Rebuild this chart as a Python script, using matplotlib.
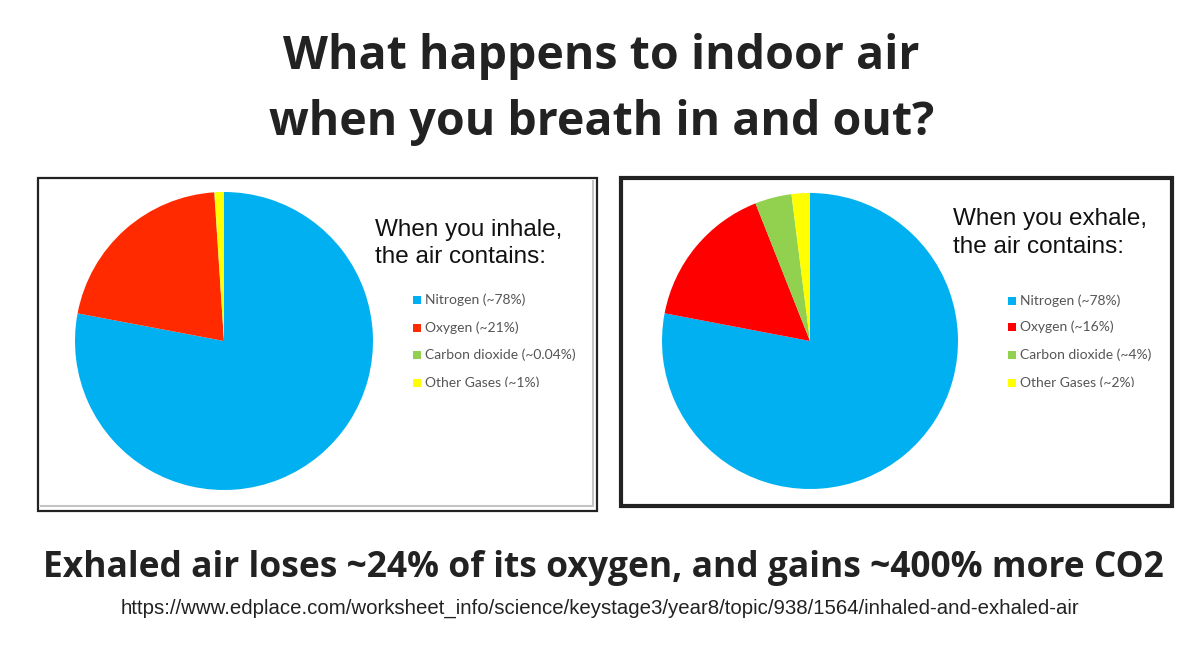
import matplotlib
matplotlib.use("Agg")
import matplotlib.pyplot as plt
from matplotlib.patches import Rectangle
from matplotlib.lines import Line2D

# ---- data ----
gases = ["Nitrogen", "Oxygen", "Carbon dioxide", "Other Gases"]
inhale_values = [78, 21, 0.04, 1]
exhale_values = [78, 16, 4, 2]
inhale_labels = ["Nitrogen (~78%)", "Oxygen (~21%)", "Carbon dioxide (~0.04%)", "Other Gases (~1%)"]
exhale_labels = ["Nitrogen (~78%)", "Oxygen (~16%)", "Carbon dioxide (~4%)", "Other Gases (~2%)"]
inhale_colors = ["#00B0F0", "#FF2A00", "#92D050", "#FFFF00"]
exhale_colors = ["#00B0F0", "#FF0000", "#92D050", "#FFFF00"]

title_lines = ["What happens to indoor air", "when you breath in and out?"]
bottom_text = "Exhaled air loses ~24% of its oxygen, and gains ~400% more CO2"
url_text = "https://www.edplace.com/worksheet_info/science/keystage3/year8/topic/938/1564/inhaled-and-exhaled-air"

W, H = 1200, 668
fig = plt.figure(figsize=(W / 100, H / 100), dpi=100)
fig.patch.set_facecolor("white")


def fx(x):
    return x / W


def fy(y):
    return 1 - y / H


# Title
fig.text(fx(601), fy(56), title_lines[0], ha="center", va="center",
         fontsize=33.5, fontweight="bold", family="Open Sans", color="#222222")
fig.text(fx(602), fy(123), title_lines[1], ha="center", va="center",
         fontsize=33.5, fontweight="bold", family="Open Sans", color="#222222")

# Panel boxes
# left box: thin dark border with gray inner shadow on right and bottom
fig.patches.append(Rectangle((fx(38), fy(511)), fx(597) - fx(38), fy(178) - fy(511),
                             transform=fig.transFigure, fill=False, lw=1.6, ec="#222222"))
fig.lines.append(Line2D([fx(593), fx(593)], [fy(181), fy(506)], transform=fig.transFigure,
                        lw=1.5, color="#c4c4c4"))
fig.lines.append(Line2D([fx(41), fx(593)], [fy(506), fy(506)], transform=fig.transFigure,
                        lw=1.5, color="#c4c4c4"))
# right box: thick dark border
fig.patches.append(Rectangle((fx(621), fy(506)), fx(1172) - fx(621), fy(178) - fy(506),
                             transform=fig.transFigure, fill=False, lw=3.0, ec="#222222"))


def draw_pie(cx, cy, r, values, colors):
    ax = fig.add_axes([fx(cx - r), fy(cy + r), 2 * r / W, 2 * r / H])
    ax.pie(values, colors=colors, startangle=90, counterclock=False, radius=1.0,
           wedgeprops=dict(linewidth=0))
    ax.set_xlim(-1, 1)
    ax.set_ylim(-1, 1)
    ax.set_aspect("auto")
    ax.axis("off")
    return ax


draw_pie(224, 341, 149, inhale_values, inhale_colors)
draw_pie(810, 341, 148, exhale_values, exhale_colors)


def draw_legend(head_x, head_y1, head_y2, head_lines, mx, tx, ys, labels, colors, clip_y):
    fig.text(fx(head_x), fy(head_y1), head_lines[0], ha="left", va="baseline",
             fontsize=17.5, family="Liberation Sans", color="#111111")
    fig.text(fx(head_x), fy(head_y2), head_lines[1], ha="left", va="baseline",
             fontsize=17.5, family="Liberation Sans", color="#111111")
    clip = Rectangle((fx(mx - 5), fy(clip_y)), fx(200), fy(280) - fy(clip_y),
                     transform=fig.transFigure, fill=False, lw=0)
    for y, lab, col in zip(ys, labels, colors):
        sq = Rectangle((fx(mx), fy(y + 4)), 8 / W, 8 / H, transform=fig.transFigure,
                       fc=col, ec="none")
        sq.set_clip_path(clip)
        fig.patches.append(sq)
        t = fig.text(fx(tx), fy(y), lab, ha="left", va="center",
                     fontsize=10, family="Lato", color="#555555")
        t.set_clip_path(clip)


draw_legend(375, 236, 263, ["When you inhale,", "the air contains:"],
            413, 425, [300, 328, 355, 383], inhale_labels, inhale_colors, 387)
draw_legend(953, 225, 253, ["When you exhale,", "the air contains:"],
            1008, 1020, [301, 327, 355, 383], exhale_labels, exhale_colors, 387)

# Bottom text
fig.text(fx(603), fy(568), bottom_text, ha="center", va="center",
         fontsize=25.5, fontweight="bold", family="Open Sans", color="#222222")
fig.text(fx(600), fy(608), url_text, ha="center", va="center",
         fontsize=14.7, family="Liberation Sans", color="#222222")

fig.savefig("out.png", dpi=100, facecolor="white")
